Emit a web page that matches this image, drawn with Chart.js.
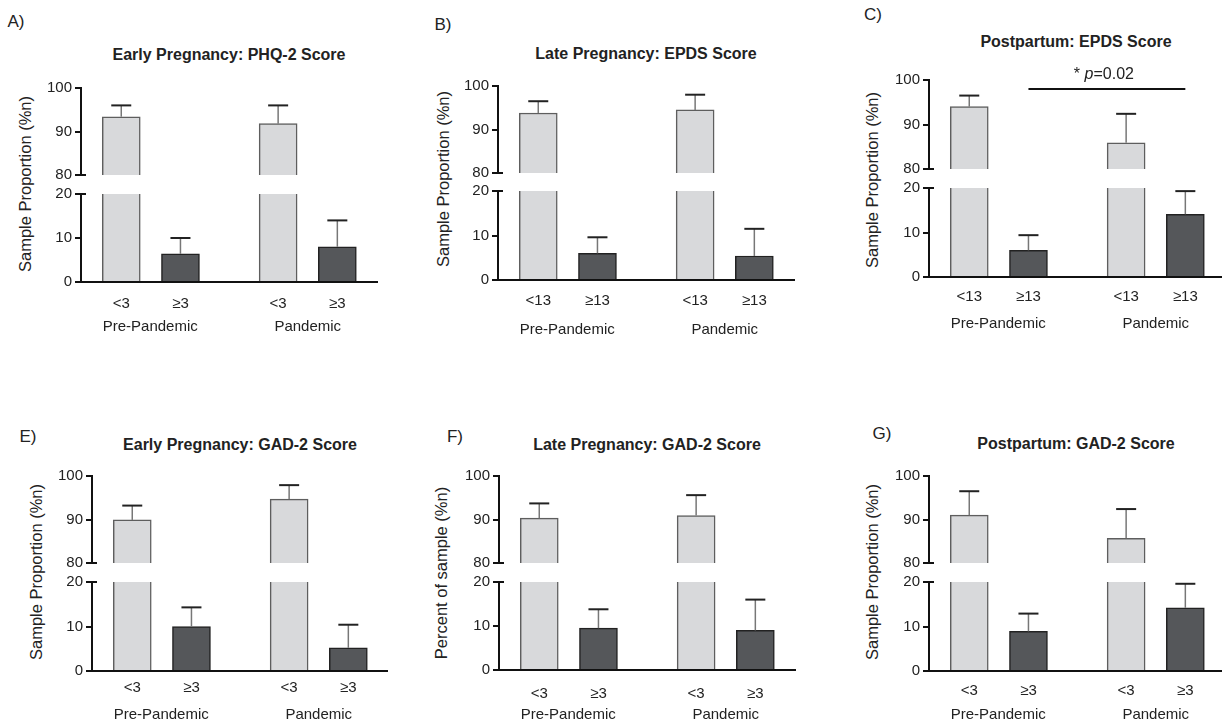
<!DOCTYPE html>
<html>
<head>
<meta charset="utf-8">
<script src="https://cdn.jsdelivr.net/npm/chart.js@4.4.0/dist/chart.umd.min.js"></script>
<style>
  body { margin: 0; width: 1222px; height: 722px; background: #fff; position: relative; overflow: hidden;
         font-family: 'Liberation Sans', Arial, sans-serif; color: #222; }
  canvas { position: absolute; }
  .txt { position: absolute; white-space: nowrap; transform: translate(-50%, -50%); }
  .letter { font-size: 17px; }
  .title { font-size: 16px; font-weight: bold; }
  .ytitle { font-size: 16.5px; transform: translate(-50%, -50%) rotate(-90deg); }
</style>
</head>
<body>
<script>
// --- Data ---
const groups = ['Pre-Pandemic', 'Pandemic'];
const twoCut = ['<3', '≥3', '<3', '≥3'];
const epdsCut = ['<13', '≥13', '<13', '≥13'];

// A) Early pregnancy PHQ-2
const aBelow = [93.4, 91.8];
const aBelowErr = [96.0, 96.0];
const aAbove = [6.4, 8.0];
const aAboveErr = [10.0, 14.0];

// B) Late pregnancy EPDS
const bBelow = [93.8, 94.5];
const bBelowErr = [96.5, 98.0];
const bAbove = [6.0, 5.4];
const bAboveErr = [9.6, 11.5];

// C) Postpartum EPDS
const cBelow = [94.0, 85.9];
const cBelowErr = [96.5, 92.4];
const cAbove = [6.0, 14.1];
const cAboveErr = [9.4, 19.3];
const cSigLevel = 98;
const cSigText = ['* ', 'p', '=0.02'];

// E) Early pregnancy GAD-2
const eBelow = [89.9, 94.7];
const eBelowErr = [93.2, 97.9];
const eAbove = [10.0, 5.2];
const eAboveErr = [14.3, 10.4];

// F) Late pregnancy GAD-2
const fBelow = [90.3, 90.9];
const fBelowErr = [93.7, 95.6];
const fAbove = [9.5, 9.0];
const fAboveErr = [13.8, 16.0];

// G) Postpartum GAD-2
const gBelow = [91.0, 85.7];
const gBelowErr = [96.5, 92.4];
const gAbove = [8.9, 14.2];
const gAboveErr = [12.9, 19.6];

// --- Look ---
const FONT = "'Liberation Sans', Arial, sans-serif";
const LIGHT = '#d8d9db';
const DARK = '#55575a';
const INK = '#111';
const AXW = 60;        // y axis box width
const UNIT = 59.2;     // px per x unit
const barPos = [0.68, 1.68, 3.33, 4.33];
const groupPos = [1.17, 3.83];

// --- Plugins ---
const errorBars = {
  id: 'errorBars',
  afterDatasetsDraw(chart) {
    const { ctx, chartArea: a, scales: { x, y } } = chart;
    ctx.save();
    ctx.beginPath();
    ctx.rect(a.left, a.top - 2, a.right - a.left, a.bottom - a.top + 2);
    ctx.clip();
    chart.data.datasets.forEach(ds => {
      ds.data.forEach((pt, i) => {
        const px = x.getPixelForValue(pt.x);
        const top = y.getPixelForValue(pt.y);
        const end = y.getPixelForValue(ds.errors[i]);
        ctx.strokeStyle = '#777';
        ctx.lineWidth = 1.5;
        ctx.beginPath(); ctx.moveTo(px, top); ctx.lineTo(px, end); ctx.stroke();
        ctx.strokeStyle = '#222';
        ctx.lineWidth = 2;
        ctx.beginPath(); ctx.moveTo(px - 10, end); ctx.lineTo(px + 10, end); ctx.stroke();
      });
    });
    ctx.restore();
  }
};

// small cross mark at the cut end of a broken axis
const breakMark = {
  id: 'breakMark',
  afterDraw(chart, args, o) {
    const y = chart.scales.y;
    const py = y.getPixelForValue(o.end === 'min' ? y.min : y.max);
    const ctx = chart.ctx;
    ctx.save();
    ctx.strokeStyle = INK;
    ctx.lineWidth = 2;
    ctx.beginPath(); ctx.moveTo(y.right - 5, py); ctx.lineTo(y.right + 5, py); ctx.stroke();
    ctx.restore();
  }
};

const sigBar = {
  id: 'sigBar',
  afterDraw(chart, args, o) {
    if (o.level === undefined) return;
    const { ctx, scales: { x, y } } = chart;
    const x1 = x.getPixelForValue(o.from);
    const x2 = x.getPixelForValue(o.to);
    const py = y.getPixelForValue(o.level);
    ctx.save();
    ctx.strokeStyle = INK;
    ctx.lineWidth = 2;
    ctx.beginPath(); ctx.moveTo(x1, py); ctx.lineTo(x2, py); ctx.stroke();
    // text centred over the bracket, 'p' in italics
    const fonts = o.text.map((t, i) => (i === 1 ? 'italic ' : '') + '16px ' + FONT);
    let total = 0;
    const widths = o.text.map((t, i) => { ctx.font = fonts[i]; const w = ctx.measureText(t).width; total += w; return w; });
    let cx = (x1 + x2) / 2 - total / 2 - 3;
    ctx.fillStyle = '#222';
    ctx.textBaseline = 'alphabetic';
    o.text.forEach((t, i) => { ctx.font = fonts[i]; ctx.fillText(t, cx, py - 10); cx += widths[i]; });
    ctx.restore();
  }
};

// --- Helpers ---
function addText(cls, text, pos) {
  const d = document.createElement('div');
  d.className = 'txt ' + cls;
  d.textContent = text;
  d.style.left = pos[0] + 'px';
  d.style.top = pos[1] + 'px';
  document.body.appendChild(d);
}

function addCanvas(left, top, w, h) {
  const c = document.createElement('canvas');
  c.width = w; c.height = h;
  c.style.left = left + 'px'; c.style.top = top + 'px';
  c.style.width = w + 'px'; c.style.height = h + 'px';
  document.body.appendChild(c);
  return c;
}

function barSets(p) {
  const common = { barThickness: 38, grouped: false, clip: 0, borderWidth: 1.5 };
  return [
    Object.assign({ data: p.below.map((v, i) => ({ x: barPos[i * 2], y: v })), errors: p.belowErr,
      backgroundColor: LIGHT, borderColor: '#5e5e5e' }, common),
    Object.assign({ data: p.above.map((v, i) => ({ x: barPos[i * 2 + 1], y: v })), errors: p.aboveErr,
      backgroundColor: DARK, borderColor: '#222' }, common)
  ];
}

function yAxis(min, max) {
  return {
    min, max,
    afterFit: s => { s.width = AXW; },
    ticks: { stepSize: 10, color: '#222', font: { family: FONT, size: 15 }, padding: 3 },
    grid: { drawOnChartArea: false, drawTicks: true, tickLength: 6, color: INK, lineWidth: 2 },
    border: { color: INK, width: 2 }
  };
}

function makePanel(p) {
  addText('letter', p.letter, p.letterAt);
  addText('title', p.title, p.titleAt);
  addText('ytitle', p.ytitle, p.ytitleAt);

  const xMax = (p.right - p.ax) / UNIT;
  const w = p.right - p.ax + AXW;
  const padTop = p.sig ? 22 : 10;

  // upper part of the broken axis: 80-100
  const top = addCanvas(p.ax - AXW, p.y100 - padTop, w, p.y80 - p.y100 + padTop + 10);
  new Chart(top, {
    type: 'bar',
    data: { datasets: barSets(p) },
    plugins: [errorBars, breakMark, sigBar],
    options: {
      responsive: false, animation: false, events: [],
      layout: { padding: { top: padTop, bottom: 10, left: 0, right: 0 } },
      plugins: {
        legend: { display: false }, tooltip: { enabled: false },
        breakMark: { end: 'min' },
        sigBar: p.sig ? { level: p.sig, from: barPos[1], to: barPos[3], text: cSigText } : {}
      },
      scales: {
        x: { type: 'linear', offset: false, min: 0, max: xMax, display: false },
        y: yAxis(80, 100)
      }
    }
  });

  // lower part: 0-20 with category and group labels
  const h1 = p.tickRow - p.y0 + 10;
  const h2 = p.groupRow - p.tickRow + 10;
  const bottom = addCanvas(p.ax - AXW, p.y20 - 10, w, p.y0 - p.y20 + 10 + h1 + h2);
  new Chart(bottom, {
    type: 'bar',
    data: { datasets: barSets(p) },
    plugins: [errorBars, breakMark],
    options: {
      responsive: false, animation: false, events: [],
      layout: { padding: { top: 10, bottom: 0, left: 0, right: 0 } },
      plugins: { legend: { display: false }, tooltip: { enabled: false }, breakMark: { end: 'max' } },
      scales: {
        x: {
          type: 'linear', position: 'bottom', weight: 0, offset: false, min: 0, max: xMax,
          afterBuildTicks: s => { s.ticks = barPos.map(v => ({ value: v })); },
          afterFit: s => { s.height = h1; },
          ticks: { autoSkip: false, maxRotation: 0, padding: p.tickRow - p.y0 - 7, color: '#222',
                   font: { family: FONT, size: 15 }, callback: (v, i) => p.cats[i] },
          grid: { display: false, drawTicks: false, offset: false },
          border: { display: true, color: INK, width: 2 }
        },
        x2: {
          type: 'linear', position: 'bottom', weight: 1, offset: false, min: 0, max: xMax,
          afterBuildTicks: s => { s.ticks = groupPos.map(v => ({ value: v })); },
          afterFit: s => { s.height = h2; },
          ticks: { autoSkip: false, maxRotation: 0, padding: p.groupRow - p.tickRow - 17, color: '#222',
                   font: { family: FONT, size: 15 }, callback: (v, i) => groups[i] },
          grid: { display: false, drawTicks: false, offset: false },
          border: { display: false }
        },
        y: yAxis(0, 20)
      }
    }
  });
}

// --- Panels ---
const YT = 'Sample Proportion (%n)';
const panels = [
  { letter: 'A)', title: 'Early Pregnancy: PHQ-2 Score', ytitle: YT, cats: twoCut,
    below: aBelow, belowErr: aBelowErr, above: aAbove, aboveErr: aAboveErr,
    ax: 81, y100: 86, y80: 177, y20: 192, y0: 282, right: 378, tickRow: 302, groupRow: 325,
    letterAt: [16, 22], titleAt: [229, 55], ytitleAt: [25, 184] },
  { letter: 'B)', title: 'Late Pregnancy: EPDS Score', ytitle: YT, cats: epdsCut,
    below: bBelow, belowErr: bBelowErr, above: bAbove, aboveErr: bAboveErr,
    ax: 498, y100: 84, y80: 175, y20: 189, y0: 280, right: 795, tickRow: 299, groupRow: 328,
    letterAt: [443, 25], titleAt: [646, 54], ytitleAt: [443, 179] },
  { letter: 'C)', title: 'Postpartum: EPDS Score', ytitle: YT, cats: epdsCut,
    below: cBelow, belowErr: cBelowErr, above: cAbove, aboveErr: cAboveErr, sig: cSigLevel,
    ax: 929, y100: 80, y80: 171, y20: 186, y0: 277, right: 1222, tickRow: 295, groupRow: 322,
    letterAt: [873, 15], titleAt: [1076, 42], ytitleAt: [872, 180] },
  { letter: 'E)', title: 'Early Pregnancy: GAD-2 Score', ytitle: YT, cats: twoCut,
    below: eBelow, belowErr: eBelowErr, above: eAbove, aboveErr: eAboveErr,
    ax: 92, y100: 474, y80: 565, y20: 580, y0: 671, right: 388, tickRow: 686, groupRow: 713,
    letterAt: [28, 437], titleAt: [240, 445], ytitleAt: [36, 572] },
  { letter: 'F)', title: 'Late Pregnancy: GAD-2 Score', ytitle: 'Percent of sample (%n)', cats: twoCut,
    below: fBelow, belowErr: fBelowErr, above: fAbove, aboveErr: fAboveErr,
    ax: 499, y100: 474, y80: 565, y20: 580, y0: 670, right: 796, tickRow: 692, groupRow: 713,
    letterAt: [455, 437], titleAt: [647, 445], ytitleAt: [441, 573] },
  { letter: 'G)', title: 'Postpartum: GAD-2 Score', ytitle: YT, cats: twoCut,
    below: gBelow, belowErr: gBelowErr, above: gAbove, aboveErr: gAboveErr,
    ax: 929, y100: 474, y80: 565, y20: 580, y0: 671, right: 1222, tickRow: 689, groupRow: 713,
    letterAt: [882, 434], titleAt: [1076, 444], ytitleAt: [872, 572] }
];

panels.forEach(makePanel);
</script>
</body>
</html>
